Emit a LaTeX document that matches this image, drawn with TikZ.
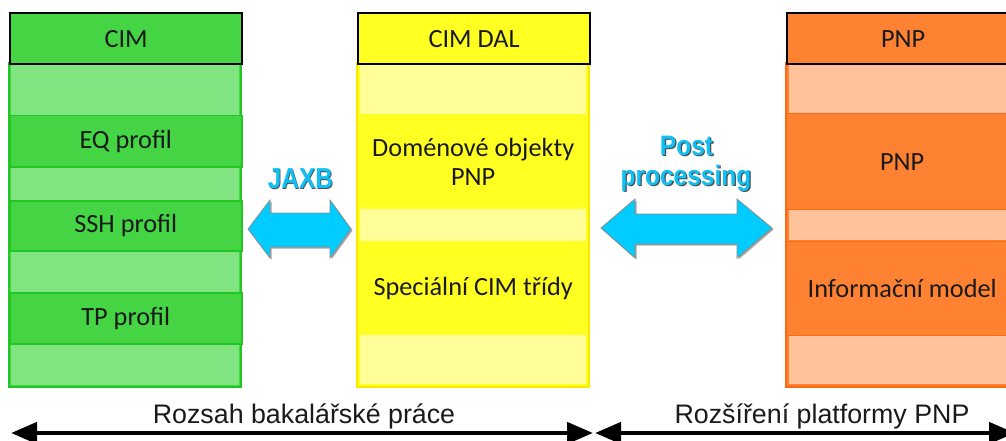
\documentclass[tikz,border=0pt]{standalone}
\usepackage{fontspec}
\setmainfont{Carlito}
\newfontfamily\arialf{Liberation Sans}
\usetikzlibrary{arrows.meta}

\definecolor{gDark}{HTML}{44D444}
\definecolor{gLight}{HTML}{80E480}
\definecolor{gLine}{HTML}{22C622}
\definecolor{yDark}{HTML}{FFFF22}
\definecolor{yLight}{HTML}{FFFF99}
\definecolor{yLine}{HTML}{F8EA00}
\definecolor{oDark}{HTML}{FF8232}
\definecolor{oLight}{HTML}{FFC29A}
\definecolor{oLine}{HTML}{FF6A10}
\definecolor{arrowBlue}{HTML}{00CCFF}
\definecolor{arrowEdge}{HTML}{8C8C8C}
\definecolor{labelBlue}{HTML}{10C0F5}
\definecolor{txt}{HTML}{1A1A1A}

\tikzset{
  boxtext/.style={text=txt, font=\fontsize{26.3}{29}\selectfont, align=center, inner sep=0pt},
  band/.style={boxtext, minimum width=232pt, anchor=north west},
  header/.style={band, draw=black, line width=2.2pt},
  frame/.style={line width=2pt},
  blockarrow/.style={fill=arrowBlue, draw=arrowEdge, line width=0.8pt, line join=miter},
  blockshadow/.style={fill=black!35, draw=none},
  lbl/.style={font=\arialf\bfseries\fontsize{24.5}{28}\selectfont, anchor=base, inner sep=0pt},
  scopetext/.style={font=\arialf\fontsize{26.8}{30}\selectfont, text=txt, anchor=base, inner sep=0pt},
  rangearrow/.style={line width=4.5pt, {Triangle[length=26pt,width=21pt]}-{Triangle[length=26pt,width=21pt]}}
}

% name, left x, top y, bottom y, options, text
\newcommand\strip[6]{%
  \node[band, minimum height={(#4-#3)*1pt}, #5] (#1) at (#2,#3) {#6};}
% plain filled rectangle: left, top, right, bottom, fill
\newcommand\fillbar[5]{\fill[#5] (#1,#3) rectangle (#2,#4);}

\begin{document}
\begin{tikzpicture}[x=1pt,y=-1pt]
\useasboundingbox (0,0) rectangle (1006,441);
\clip (0,0) rectangle (1006,441);

% ---------- CIM column (green) ----------
\draw[frame, draw=gLine, fill=gDark] (9,63) rectangle (241,387);
\fillbar{11}{239}{63}{115}{gLight}
\fillbar{11}{239}{166}{200}{gLight}
\fillbar{11}{239}{250}{292}{gLight}
\fillbar{11}{239}{343}{385}{gLight}
\strip{eq}{9}{115}{166}{fill=gDark, draw=gLine, line width=1.5pt}{EQ profil}
\strip{ssh}{9}{200}{250}{fill=gDark, draw=gLine, line width=1.5pt}{SSH profil}
\strip{tp}{9}{292}{343}{fill=gDark, draw=gLine, line width=1.5pt}{TP profil}
\strip{cim}{9}{12}{63}{header, fill=gDark}{CIM}

% ---------- CIM DAL column (yellow) ----------
\draw[frame, draw=yLine, fill=yDark] (357,63) rectangle (589,387);
\fillbar{360}{586}{65}{114}{yLight}
\fillbar{360}{586}{209}{241}{yLight}
\fillbar{360}{586}{335}{384}{yLight}
\strip{dom}{357}{114}{209}{}{Doménové objekty\\PNP}
\strip{spec}{357}{241}{335}{}{Speciální CIM třídy}
\strip{dal}{357}{12}{63}{header, fill=yDark}{CIM DAL}

% ---------- PNP column (orange) ----------
\draw[frame, draw=oLine, fill=oDark] (786,63) rectangle (1018,387);
\fillbar{789}{1015}{65}{113}{oLight}
\fillbar{789}{1015}{210}{240}{oLight}
\fillbar{789}{1015}{336}{384}{oLight}
\draw[oLine, line width=1pt] (786,114) -- (1018,114) (786,209) -- (1018,209)
  (786,241) -- (1018,241) (786,335) -- (1018,335);
\strip{pnpm}{786}{114}{209}{}{PNP}
\strip{info}{786}{241}{335}{}{Informační model}
\strip{pnp}{786}{12}{63}{header, fill=oDark}{PNP}

% ---------- JAXB double arrow ----------
\fill[blockshadow, shift={(1.5,1.5)}] (248,229) -- (270,200) -- (270,213) -- (330,213) -- (330,200)
  -- (351,229) -- (330,258) -- (330,247) -- (270,247) -- (270,258) -- cycle;
\draw[blockarrow] (248,229) -- (270,200) -- (270,213) -- (330,213) -- (330,200)
  -- (351,229) -- (330,258) -- (330,247) -- (270,247) -- (270,258) -- cycle;
\node[lbl, text=black!70] (jaxbs) at (301.2,189.2) {\scalebox{1}[1.18]{JAXB}};
\node[lbl, text=labelBlue] (jaxb) at (300.5,188) {\scalebox{1}[1.18]{JAXB}};

% ---------- Post processing double arrow ----------
\fill[blockshadow, shift={(1.5,1.5)}] (601,228) -- (635,199) -- (635,214) -- (737,214) -- (737,199)
  -- (772,228) -- (737,258) -- (737,244) -- (635,244) -- (635,258) -- cycle;
\draw[blockarrow] (601,228) -- (635,199) -- (635,214) -- (737,214) -- (737,199)
  -- (772,228) -- (737,258) -- (737,244) -- (635,244) -- (635,258) -- cycle;
\node[lbl, text=black!70] (posts) at (687.7,156.2) {\scalebox{1}[1.15]{Post}};
\node[lbl, text=labelBlue] (post) at (686.5,155) {\scalebox{1}[1.15]{Post}};
\node[lbl, text=black!70] (procs) at (687.2,186.2) {\scalebox{1}[1.15]{processing}};
\node[lbl, text=labelBlue] (proc) at (686,185) {\scalebox{1}[1.15]{processing}};

% ---------- scope arrows ----------
\coordinate (s1) at (11,433);
\coordinate (s2) at (593,433);
\coordinate (e1) at (595,433);
\coordinate (e2) at (1015,433);
\draw[rangearrow] (s1) -- (s2);
\draw[rangearrow] (e1) -- (e2);
\node[scopetext] (bak) at (304,423) {Rozsah bakalářské práce};
\node[scopetext] (ext) at (822,423) {Rozšíření platformy PNP};
\end{tikzpicture}
\end{document}
